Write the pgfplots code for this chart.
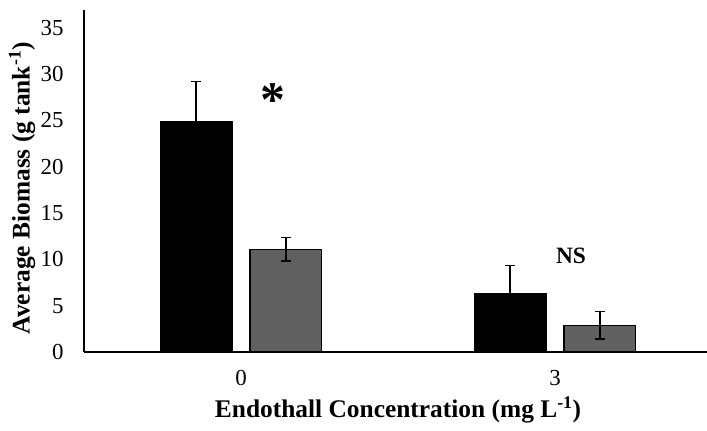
\documentclass[border=0pt]{standalone}
\usepackage{fontspec}
\setmainfont{Liberation Serif}
\usepackage{pgfplots}
\pgfplotsset{compat=1.18}
\definecolor{barGray}{HTML}{606060}
\begin{document}
\begin{tikzpicture}[x=1bp,y=1bp]
\useasboundingbox (0,0) rectangle (707,430);
\begin{axis}[
  at={(84bp,78bp)}, anchor=south west,
  scale only axis, width=623bp, height=342bp,
  xmin=-0.5, xmax=1.484, ymin=0, ymax=36.93,
  axis x line*=bottom, axis y line*=left,
  axis line style={line width=1.3bp, -},
  ytick={0,5,...,35}, xtick={0,1}, xticklabels={0,3},
  major tick length=0pt,
  tick label style={font=\fontsize{23}{27}\selectfont},
  /pgf/number format/assume math mode=true,
  yticklabel style={xshift=-17bp},
  xticklabel style={yshift=-15bp},
  xlabel={\textbf{Endothall Concentration (mg L\textsuperscript{-1})}},
  ylabel={\textbf{Average Biomass (g tank\textsuperscript{-1})}},
  label style={font=\fontsize{25.5}{29}\selectfont},
  xlabel style={at={(axis description cs:0.504,-0.170)}, anchor=center},
  ylabel style={at={(axis description cs:-0.0995,0.479)}, anchor=center},
  ybar=18bp, bar width=71.6bp,
  clip=false,
]
\addplot[fill=black, draw=black, line width=1.2bp,
  error bars/.cd, y dir=both, y explicit,
  error bar style={line width=1.5bp, black},
  error mark options={rotate=90, mark size=5bp, line width=1.5bp, black}]
  coordinates {(0,24.9) +- (0,4.3) (1,6.3) +- (0,3.05)};
\addplot[fill=barGray, draw=black, line width=1.2bp,
  error bars/.cd, y dir=both, y explicit,
  error bar style={line width=1.5bp, black},
  error mark options={rotate=90, mark size=5bp, line width=1.5bp, black}]
  coordinates {(0,11.1) +- (0,1.25) (1,2.9) +- (0,1.5)};
\node[font=\bfseries\fontsize{50}{50}\selectfont, anchor=center] at (axis cs:0.102,27.2) {*};
\node[font=\bfseries\fontsize{23.5}{27}\selectfont, anchor=center] at (axis cs:1.051,10.4) {NS};
\end{axis}
\end{tikzpicture}
\end{document}
